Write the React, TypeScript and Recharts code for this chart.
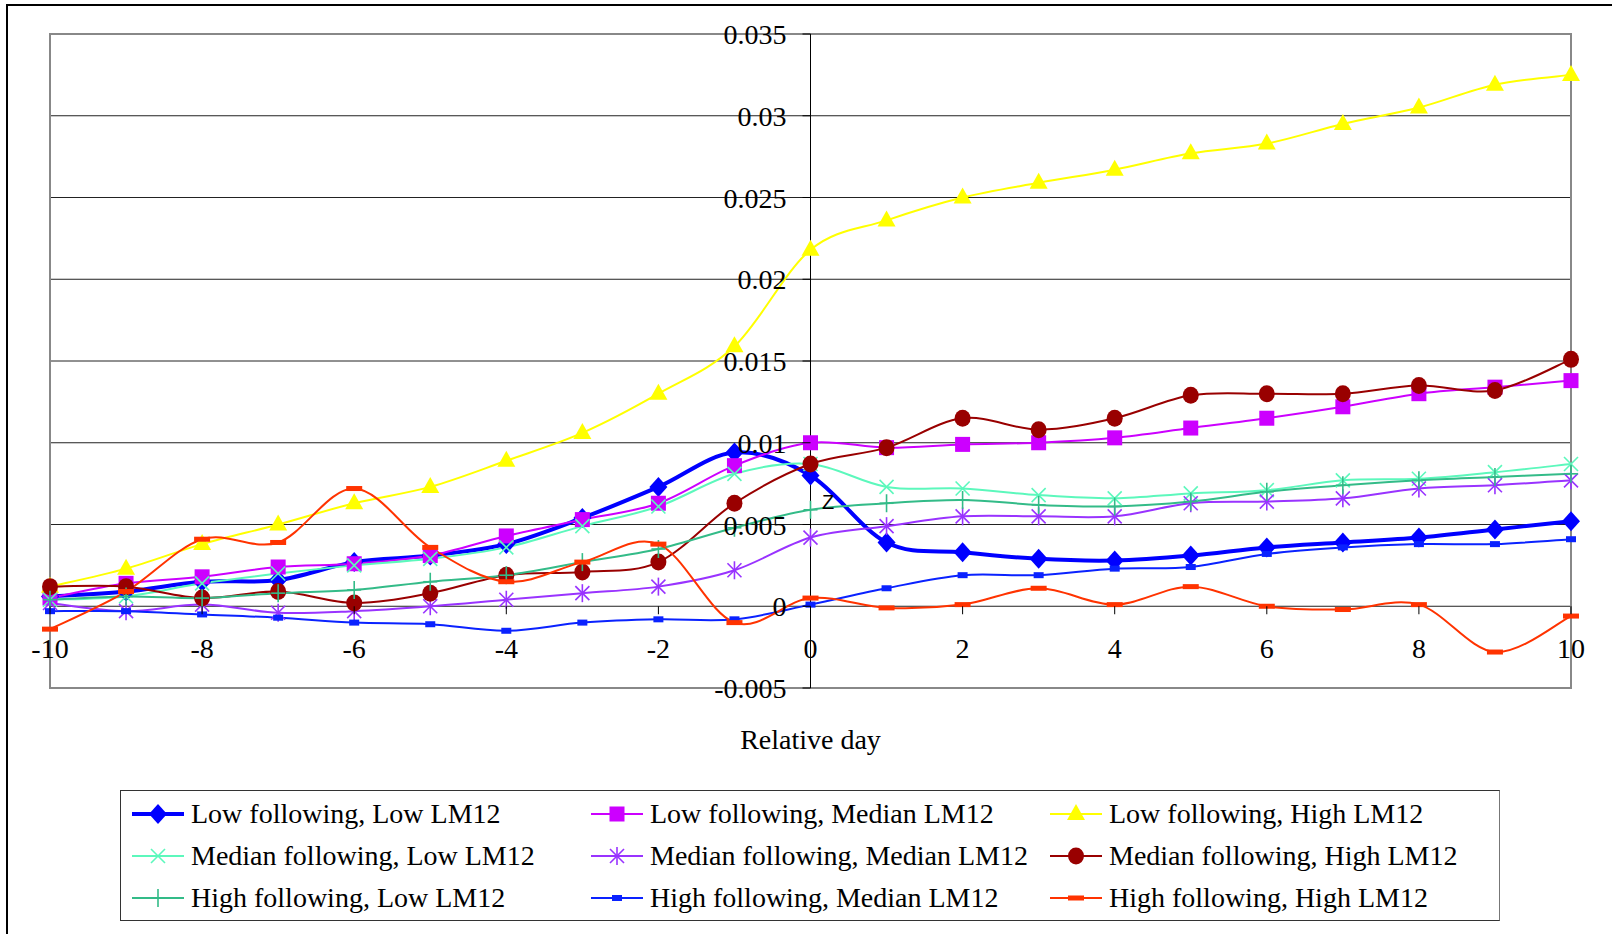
import React from 'react';
import { LineChart, Line, XAxis, YAxis, CartesianGrid, ReferenceLine, ReferenceArea, ReferenceDot } from 'recharts';

const days = [-10, -9, -8, -7, -6, -5, -4, -3, -2, -1, 0, 1, 2, 3, 4, 5, 6, 7, 8, 9, 10];
const lowLow = [0.0006, 0.0009, 0.0015, 0.0016, 0.0027, 0.0031, 0.0038, 0.0054, 0.0073, 0.0094, 0.008, 0.0039, 0.0033, 0.0029, 0.0028, 0.0031, 0.0036, 0.0039, 0.0042, 0.0047, 0.0052];
const lowMed = [0.0005, 0.0014, 0.0018, 0.0024, 0.0026, 0.0031, 0.0043, 0.0053, 0.0063, 0.0086, 0.01, 0.0097, 0.0099, 0.01, 0.0103, 0.0109, 0.0115, 0.0122, 0.013, 0.0134, 0.0138];
const lowHigh = [0.0012, 0.0023, 0.0038, 0.005, 0.0063, 0.0073, 0.0089, 0.0106, 0.013, 0.0159, 0.0218, 0.0236, 0.025, 0.0259, 0.0267, 0.0277, 0.0283, 0.0295, 0.0305, 0.0319, 0.0325];
const medLow = [0.0004, 0.0006, 0.0014, 0.002, 0.0025, 0.0029, 0.0036, 0.0049, 0.0061, 0.0081, 0.0087, 0.0073, 0.0072, 0.0068, 0.0066, 0.0069, 0.0071, 0.0077, 0.0078, 0.0082, 0.0087];
const medMed = [0.0002, -0.0003, 0.0001, -0.0004, -0.0003, 0.0, 0.0004, 0.0008, 0.0012, 0.0022, 0.0042, 0.0049, 0.0055, 0.0055, 0.0055, 0.0063, 0.0064, 0.0066, 0.0072, 0.0074, 0.0077];
const medHigh = [0.0012, 0.0012, 0.0005, 0.0009, 0.0002, 0.0008, 0.0019, 0.0021, 0.0027, 0.0063, 0.0087, 0.0097, 0.0115, 0.0108, 0.0115, 0.0129, 0.013, 0.013, 0.0135, 0.0132, 0.0151];
const highLow = [0.0004, 0.0006, 0.0005, 0.0008, 0.001, 0.0015, 0.0019, 0.0027, 0.0035, 0.0048, 0.0059, 0.0063, 0.0065, 0.0062, 0.0061, 0.0064, 0.007, 0.0074, 0.0077, 0.0079, 0.0081];
const highMed = [-0.0003, -0.0003, -0.0005, -0.0007, -0.001, -0.0011, -0.0015, -0.001, -0.0008, -0.0008, 0.0001, 0.0011, 0.0019, 0.0019, 0.0023, 0.0024, 0.0032, 0.0036, 0.0038, 0.0038, 0.0041];
const highHigh = [-0.0014, 0.0009, 0.0041, 0.0039, 0.0072, 0.0036, 0.0015, 0.0027, 0.0038, -0.001, 0.0005, -0.0001, 0.0001, 0.0011, 0.0001, 0.0012, 0.0, -0.0002, 0.0001, -0.0028, -0.0006];

const xTicks = [-10, -8, -6, -4, -2, 0, 2, 4, 6, 8, 10];
const yTicks = [-0.005, 0, 0.005, 0.01, 0.015, 0.02, 0.025, 0.03, 0.035];
const yTickLabels = ['-0.005', '0', '0.005', '0.01', '0.015', '0.02', '0.025', '0.03', '0.035'];

const seriesDefs = [
  { key: 'lowLow', name: 'Low following, Low LM12', values: lowLow, color: '#0000FF', width: 4, marker: 'diamond' },
  { key: 'lowMed', name: 'Low following, Median LM12', values: lowMed, color: '#CC00FF', width: 2, marker: 'square' },
  { key: 'lowHigh', name: 'Low following, High LM12', values: lowHigh, color: '#FFFF00', width: 2, marker: 'triangle' },
  { key: 'medLow', name: 'Median following, Low LM12', values: medLow, color: '#5CF8BC', width: 2, marker: 'x' },
  { key: 'medMed', name: 'Median following, Median LM12', values: medMed, color: '#9933FF', width: 2, marker: 'star' },
  { key: 'medHigh', name: 'Median following, High LM12', values: medHigh, color: '#990000', width: 2, marker: 'circle' },
  { key: 'highLow', name: 'High following, Low LM12', values: highLow, color: '#33BB88', width: 2, marker: 'plus' },
  { key: 'highMed', name: 'High following, Median LM12', values: highMed, color: '#0A22FF', width: 2, marker: 'rect' },
  { key: 'highHigh', name: 'High following, High LM12', values: highHigh, color: '#FF3300', width: 2, marker: 'dash' },
];

const data = days.map((d, i) => {
  const row: any = { day: d };
  seriesDefs.forEach((s) => { row[s.key] = s.values[i]; });
  return row;
});

const W = 1612;
const H = 934;
const M = { top: 34, right: 41, bottom: 245, left: 49 };
const AXIS_SIZE = 1;
const XMIN = -10, XMAX = 10, YMIN = -0.005, YMAX = 0.035;
const PLOT_LEFT = M.left + AXIS_SIZE;
const PLOT_W = W - PLOT_LEFT - M.right;
const PLOT_H = H - M.top - M.bottom - AXIS_SIZE;
const AXIS_X = PLOT_LEFT + ((0 - XMIN) / (XMAX - XMIN)) * PLOT_W;
const ZERO_Y = M.top + ((YMAX - 0) / (YMAX - YMIN)) * PLOT_H;
const FONT = '"Liberation Serif", "Times New Roman", serif';

// Excel-like smoothing (Catmull-Rom through the points)
const excelSmooth: any = (context: any) => {
  let pts: number[][] = [];
  return {
    areaStart() {},
    areaEnd() {},
    lineStart() { pts = []; },
    point(x: number, y: number) { pts.push([+x, +y]); },
    lineEnd() {
      const n = pts.length;
      if (!n) return;
      context.moveTo(pts[0][0], pts[0][1]);
      for (let i = 0; i < n - 1; i++) {
        const p0 = pts[i - 1] || pts[i];
        const p1 = pts[i];
        const p2 = pts[i + 1];
        const p3 = pts[i + 2] || p2;
        const c1x = p1[0] + (p2[0] - p0[0]) / 6;
        const c1y = p1[1] + (p2[1] - p0[1]) / 6;
        const c2x = p2[0] - (p3[0] - p1[0]) / 6;
        const c2y = p2[1] - (p3[1] - p1[1]) / 6;
        context.bezierCurveTo(c1x, c1y, c2x, c2y, p2[0], p2[1]);
      }
    },
  };
};

function Marker({ kind, cx, cy, color }: { kind: string; cx: number; cy: number; color: string }) {
  switch (kind) {
    case 'diamond':
      return <polygon points={`${cx},${cy - 10} ${cx + 9},${cy} ${cx},${cy + 10} ${cx - 9},${cy}`} fill={color} />;
    case 'square':
      return <rect x={cx - 7.5} y={cy - 7.5} width={15} height={15} fill={color} />;
    case 'triangle':
      return <polygon points={`${cx},${cy - 10} ${cx + 9},${cy + 6} ${cx - 9},${cy + 6}`} fill={color} />;
    case 'x':
      return (
        <g stroke={color} strokeWidth={1.6}>
          <line x1={cx - 7} y1={cy - 7} x2={cx + 7} y2={cy + 7} />
          <line x1={cx - 7} y1={cy + 7} x2={cx + 7} y2={cy - 7} />
        </g>
      );
    case 'star':
      return (
        <g stroke={color} strokeWidth={1.6}>
          <line x1={cx - 7} y1={cy - 7} x2={cx + 7} y2={cy + 7} />
          <line x1={cx - 7} y1={cy + 7} x2={cx + 7} y2={cy - 7} />
          <line x1={cx} y1={cy - 9} x2={cx} y2={cy + 9} />
        </g>
      );
    case 'circle':
      return <ellipse cx={cx} cy={cy} rx={8} ry={8.5} fill={color} />;
    case 'plus':
      return (
        <g stroke={color} strokeWidth={1.6}>
          <line x1={cx - 7} y1={cy} x2={cx + 7} y2={cy} />
          <line x1={cx} y1={cy - 9} x2={cx} y2={cy + 9} />
        </g>
      );
    case 'rect':
      return <rect x={cx - 5} y={cy - 3} width={10} height={6} fill={color} />;
    case 'dash':
      return <rect x={cx - 8} y={cy - 2.5} width={16} height={5} fill={color} />;
    default:
      return null;
  }
}

const XTick = (props: any) => {
  const { x, payload } = props;
  return (
    <g>
      <line x1={x} y1={ZERO_Y} x2={x} y2={ZERO_Y + 8} stroke="#000" strokeWidth={1} />
      <text x={x} y={ZERO_Y + 52} textAnchor="middle" fontFamily={FONT} fontSize={28} fill="#000">
        {payload.value}
      </text>
    </g>
  );
};

const YTick = (props: any) => {
  const { y, payload, index } = props;
  const idx = yTicks.findIndex((t) => Math.abs(t - payload.value) < 1e-9);
  const label = idx >= 0 ? yTickLabels[idx] : yTickLabels[index];
  return (
    <g>
      <line x1={AXIS_X - 8} y1={y} x2={AXIS_X} y2={y} stroke="#000" strokeWidth={1} />
      <text x={AXIS_X - 24} y={y + 10} textAnchor="end" fontFamily={FONT} fontSize={28} fill="#000">
        {label}
      </text>
    </g>
  );
};

const legendCols = [11, 470, 929];
const legendRows = [23, 65, 107];

function LegendBox() {
  return (
    <div
      style={{
        position: 'absolute',
        left: 120,
        top: 790,
        width: 1378,
        height: 129,
        border: '1.5px solid #333',
        borderRightColor: '#777',
        background: '#fff',
      }}
    >
      {seriesDefs.map((s, i) => {
        const col = i % 3;
        const row = Math.floor(i / 3);
        return (
          <div
            key={s.key}
            style={{
              position: 'absolute',
              left: legendCols[col],
              top: legendRows[row] - 16,
              height: 32,
              display: 'flex',
              alignItems: 'center',
              whiteSpace: 'nowrap',
            }}
          >
            <svg width={54} height={32} style={{ display: 'block' }}>
              <line x1={0} y1={16} x2={52} y2={16} stroke={s.color} strokeWidth={s.width} />
              <Marker kind={s.marker} cx={26} cy={16} color={s.color} />
            </svg>
            <span style={{ marginLeft: 5, fontFamily: FONT, fontSize: 28, lineHeight: '32px', color: '#000' }}>
              {s.name}
            </span>
          </div>
        );
      })}
    </div>
  );
}

const AxisTitle = (p: any) => {
  const vb = p.viewBox || {};
  const cx = (vb.x ?? PLOT_LEFT) + (vb.width ?? PLOT_W) / 2;
  return (
    <text x={cx} y={M.top + PLOT_H + 61} textAnchor="middle" fontFamily={FONT} fontSize={28} fill="#000">
      Relative day
    </text>
  );
};

export default function App() {
  return (
    <div style={{ position: 'fixed', left: 0, top: 0, width: W, height: H, overflow: 'hidden', background: '#fff' }}>
      <div
        style={{
          position: 'absolute',
          left: 6,
          top: 4,
          width: 1700,
          height: 1000,
          border: '2px solid #000',
        }}
      />
      <div style={{ position: 'absolute', left: 0, top: 0 }}>
        <LineChart width={W} height={H} data={data} margin={M}>
          <CartesianGrid vertical={false} stroke="#222" strokeWidth={1} />
          <XAxis
            dataKey="day"
            type="number"
            domain={[XMIN, XMAX]}
            ticks={xTicks}
            axisLine={false}
            tickLine={false}
            height={AXIS_SIZE}
            tick={<XTick />}
            interval={0}
            label={<AxisTitle />}
          />
          <YAxis
            type="number"
            domain={[YMIN, YMAX]}
            ticks={yTicks}
            axisLine={false}
            tickLine={false}
            width={AXIS_SIZE}
            tick={<YTick />}
            interval={0}
            allowDataOverflow
          />
          <ReferenceArea x1={XMIN} x2={XMAX} y1={YMIN} y2={YMAX} fill="none" stroke="#888" strokeWidth={2} />
          <ReferenceLine x={0} stroke="#000" strokeWidth={1} />
          {seriesDefs.map((s) => (
            <Line
              key={s.key}
              dataKey={s.key}
              name={s.name}
              type={excelSmooth}
              stroke={s.color}
              strokeWidth={s.width}
              isAnimationActive={false}
              dot={(p: any) => <Marker key={`${s.key}-${p.index}`} kind={s.marker} cx={p.cx} cy={p.cy} color={s.color} />}
              activeDot={false}
            />
          ))}
          <ReferenceDot
            x={0.23}
            y={0.0064}
            r={0}
            shape={(p: any) => (
              <text x={p.cx} y={p.cy + 7} textAnchor="middle" fontFamily='"Liberation Sans", Arial, sans-serif' fontSize={20} fill="#000">
                Z
              </text>
            )}
          />
        </LineChart>
      </div>
      <LegendBox />
    </div>
  );
}
